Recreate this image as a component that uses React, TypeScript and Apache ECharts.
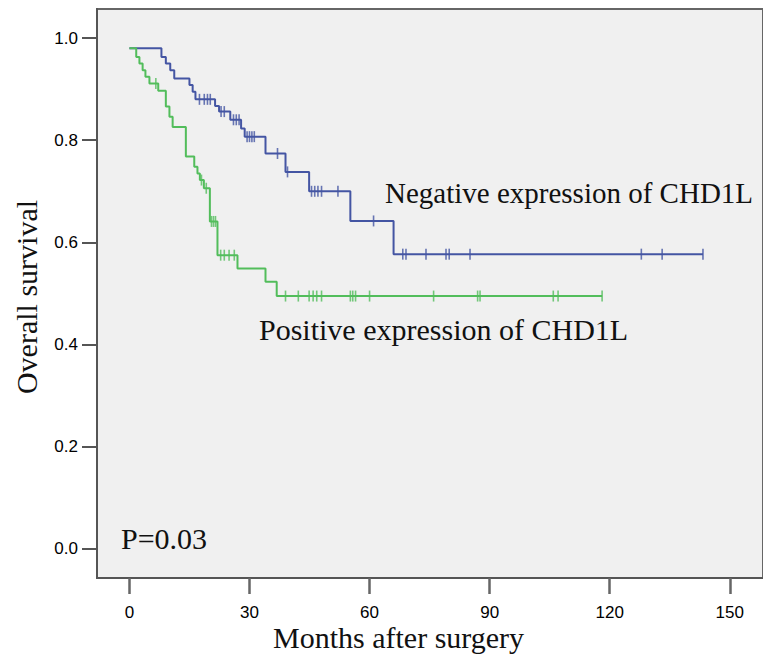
import React, { useEffect, useRef } from "react";
import * as echarts from "echarts";

// Kaplan–Meier steps: [months, survival]
const negativeSteps: [number, number][] = [
  [0, 0.98], [8, 0.963], [9.1, 0.95], [10.2, 0.937], [11.2, 0.921], [15, 0.908],
  [15.8, 0.895], [16.5, 0.88], [21.4, 0.867], [22.4, 0.856], [25.2, 0.84],
  [27.9, 0.823], [28.8, 0.807], [34, 0.774], [39, 0.738], [44.9, 0.7],
  [55.2, 0.642], [66, 0.577], [143.3, 0.577],
];
const negativeCensored: [number, number][] = [
  [17.5, 0.88], [18.7, 0.88], [19.5, 0.88], [20.2, 0.88], [22.9, 0.856], [23.7, 0.856],
  [26, 0.84], [26.7, 0.84], [27.4, 0.84], [29.4, 0.807], [30, 0.807], [30.6, 0.807],
  [31.2, 0.807], [37, 0.774], [39.5, 0.738], [45.5, 0.7], [46.3, 0.7], [47.1, 0.7],
  [48, 0.7], [52.1, 0.7], [61, 0.642], [68.3, 0.577], [69.1, 0.577], [74.1, 0.577],
  [79.1, 0.577], [79.9, 0.577], [85.1, 0.577], [127.9, 0.577], [133.1, 0.577],
  [143.3, 0.577],
];
const positiveSteps: [number, number][] = [
  [0, 0.98], [1.7, 0.963], [2.5, 0.95], [3.3, 0.937], [4, 0.924], [5, 0.911],
  [7.2, 0.897], [9.1, 0.866], [10, 0.846], [10.8, 0.826], [14.1, 0.768],
  [16.2, 0.748], [17, 0.735], [17.6, 0.722], [18.6, 0.706], [20.1, 0.641],
  [22, 0.575], [27, 0.549], [34, 0.523], [36.8, 0.495], [118.1, 0.495],
];
const positiveCensored: [number, number][] = [
  [6.6, 0.911], [18, 0.722], [19.2, 0.706], [20.5, 0.641], [21, 0.641], [21.5, 0.641],
  [22.8, 0.575], [23.7, 0.575], [24.9, 0.575], [26.2, 0.575], [39, 0.495], [42.2, 0.495],
  [44.9, 0.495], [45.9, 0.495], [46.8, 0.495], [48, 0.495], [55.2, 0.495], [55.8, 0.495],
  [56.5, 0.495], [60, 0.495], [76, 0.495], [87, 0.495], [87.6, 0.495], [105.9, 0.495],
  [107.1, 0.495], [118.1, 0.495],
];
const xTicks = [0, 30, 60, 90, 120, 150];
const yTicks = [0, 0.2, 0.4, 0.6, 0.8, 1.0];

const labelNegative = "Negative expression of CHD1L";
const labelPositive = "Positive expression of CHD1L";
const labelP = "P=0.03";
const xTitle = "Months after surgery";
const yTitle = "Overall survival";

const BLUE = "#4455a3";
const GREEN = "#52bd5b";
const SERIF = "'Liberation Serif', 'Times New Roman', serif";
const SANS = "'Liberation Sans', Arial, sans-serif";

export default function App() {
  const ref = useRef<HTMLDivElement>(null);
  useEffect(() => {
    if (!ref.current) return;
    const chart = echarts.init(ref.current, undefined, { renderer: "svg" });
    const censorSymbol = { symbol: "rect", symbolSize: [1.6, 11] as [number, number] };
    chart.setOption({
      animation: false,
      backgroundColor: "#ffffff",
      grid: {
        left: 97,
        top: 9,
        right: -3,
        bottom: 82,
        show: true,
        backgroundColor: "#f0f0f0",
        borderColor: "#666666",
        borderWidth: 2,
      },
      xAxis: {
        type: "value",
        min: -8.1,
        max: 158.3,
        axisLine: { show: true, onZero: false, lineStyle: { color: "#555555", width: 2 } },
        axisTick: {
          show: true,
          customValues: xTicks,
          length: 16,
          lineStyle: { color: "#666666", width: 2.5 },
        },
        axisLabel: {
          customValues: xTicks,
          margin: 26,
          fontFamily: SANS,
          fontSize: 17,
          color: "#000000",
        },
        splitLine: { show: false },
      },
      yAxis: {
        type: "value",
        min: -0.0568,
        max: 1.0568,
        axisLine: { show: true, onZero: false, lineStyle: { color: "#555555", width: 2 } },
        axisTick: {
          show: true,
          customValues: yTicks,
          length: 15,
          lineStyle: { color: "#555555", width: 2 },
        },
        axisLabel: {
          customValues: yTicks,
          margin: 19,
          fontFamily: SANS,
          fontSize: 17,
          color: "#000000",
          formatter: (v: number) => v.toFixed(1),
        },
        splitLine: { show: false },
      },
      series: [
        {
          type: "line",
          step: "end",
          data: negativeSteps,
          showSymbol: false,
          lineStyle: { color: BLUE, width: 2 },
          itemStyle: { color: BLUE },
        },
        {
          type: "line",
          step: "end",
          data: positiveSteps,
          showSymbol: false,
          lineStyle: { color: GREEN, width: 2 },
          itemStyle: { color: GREEN },
        },
        { type: "scatter", data: negativeCensored, ...censorSymbol, itemStyle: { color: BLUE } },
        { type: "scatter", data: positiveCensored, ...censorSymbol, itemStyle: { color: GREEN } },
      ],
      graphic: [
        {
          type: "text",
          left: 385,
          top: 178,
          style: { text: labelNegative, font: `29px ${SERIF}`, fill: "#111111" },
        },
        {
          type: "text",
          left: 259,
          top: 314,
          style: { text: labelPositive, font: `30px ${SERIF}`, fill: "#111111" },
        },
        {
          type: "text",
          left: 121,
          top: 523,
          style: { text: labelP, font: `30px ${SERIF}`, fill: "#111111" },
        },
        {
          type: "text",
          left: 273,
          top: 622,
          style: { text: xTitle, font: `30px ${SERIF}`, fill: "#111111" },
        },
        {
          type: "text",
          x: 26,
          y: 297,
          rotation: Math.PI / 2,
          style: {
            text: yTitle,
            font: `30px ${SERIF}`,
            fill: "#111111",
            align: "center",
            verticalAlign: "middle",
          },
        },
      ],
    });
    return () => chart.dispose();
  }, []);
  return (
    <div
      ref={ref}
      style={{ position: "fixed", left: 0, top: 0, width: 763, height: 660 }}
    />
  );
}
